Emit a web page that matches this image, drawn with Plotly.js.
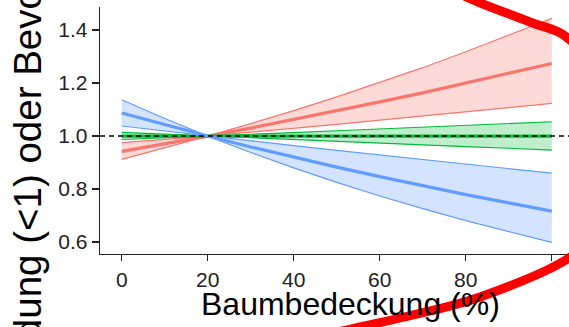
<!DOCTYPE html>
<html>
<head>
<meta charset="utf-8">
<script src="https://cdn.plot.ly/plotly-3.0.1.min.js"></script>
<style>html,body{margin:0;padding:0;overflow:hidden;background:#fff}#chart{width:569px;height:327px}</style>
</head>
<body>
<div id="chart"></div>
<script>
// Baumbedeckung (%)
const cover = [0, 10, 20, 30, 40, 50, 60, 70, 80, 90, 100];
// red group
const redMean  = [0.942, 0.970, 1.000, 1.030, 1.062, 1.094, 1.129, 1.163, 1.199, 1.236, 1.274];
const redBandA = [0.912, 0.955, 1.000, 1.047, 1.096, 1.148, 1.202, 1.258, 1.318, 1.380, 1.444];
const redBandB = [0.975, 0.987, 1.000, 1.015, 1.029, 1.044, 1.060, 1.075, 1.091, 1.107, 1.123];
// green group
const greenMean  = [1.000, 1.000, 1.000, 1.000, 1.000, 1.000, 1.000, 1.000, 1.000, 1.000, 1.000];
const greenBandA = [0.987, 0.993, 1.000, 1.007, 1.013, 1.020, 1.027, 1.034, 1.040, 1.047, 1.054];
const greenBandB = [1.014, 1.007, 1.000, 0.993, 0.986, 0.980, 0.973, 0.967, 0.960, 0.954, 0.947];
// blue group
const blueMean  = [1.087, 1.042, 1.000, 0.959, 0.920, 0.883, 0.847, 0.812, 0.779, 0.748, 0.717];
const blueBandA = [1.137, 1.066, 1.000, 0.938, 0.880, 0.825, 0.774, 0.726, 0.681, 0.639, 0.599];
const blueBandB = [1.038, 1.019, 1.000, 0.982, 0.964, 0.946, 0.929, 0.911, 0.894, 0.877, 0.860];

const xTicks = [0, 20, 40, 60, 80, 100];
const yTicks = [0.6, 0.8, 1.0, 1.2, 1.4];
const xTitle = 'Baumbedeckung (%)';
const yTitle = 'Vermeidung (<1) oder Bevorzugung (>1)';
const refLevel = 1.0;

const groups = [
  {name: 'rot',  mean: redMean,   a: redBandA,   b: redBandB,   color: '#F8766D', fill: 'rgba(248,118,109,0.27)'},
  {name: 'grün', mean: greenMean, a: greenBandA, b: greenBandB, color: '#00BA38', fill: 'rgba(0,186,56,0.25)'},
  {name: 'blau', mean: blueMean,  a: blueBandA,  b: blueBandB,  color: '#619CFF', fill: 'rgba(97,156,255,0.27)'}
];

const traces = [];
groups.forEach(g => {
  traces.push({x: cover, y: g.b, type: 'scatter', mode: 'lines', line: {color: g.color, width: 1.2}, hoverinfo: 'skip', showlegend: false});
  traces.push({x: cover, y: g.a, type: 'scatter', mode: 'lines', fill: 'tonexty', fillcolor: g.fill, line: {color: g.color, width: 1.2}, hoverinfo: 'skip', showlegend: false});
  traces.push({x: cover, y: g.mean, type: 'scatter', mode: 'lines', name: g.name, line: {color: g.color, width: 3.2}, showlegend: false});
});

// red hand-drawn ring highlight (decoration); guide points in screen pixels
const M = {l: 100, r: 0, t: 7, b: 73};
const W = 569, H = 327;
const pw = W - M.l - M.r, ph = H - M.t - M.b;
const ringPx = [[400,-40],[440,-16],[478,2],[530,22],[569,39],[603,85],[618,150],[603,215],[569,258],[480,297],[400,318],[355,328],[300,342],[260,360]];
function toPaper(p){ return [(p[0]-M.l)/pw, (H-M.b-p[1])/ph]; }
function ringPath(pts){
  const P = pts.map(toPaper);
  let d = 'M ' + P[0][0].toFixed(4) + ',' + P[0][1].toFixed(4);
  for (let i = 0; i < P.length - 1; i++) {
    const p0 = P[Math.max(i-1,0)], p1 = P[i], p2 = P[i+1], p3 = P[Math.min(i+2,P.length-1)];
    const c1 = [p1[0] + (p2[0]-p0[0])/6, p1[1] + (p2[1]-p0[1])/6];
    const c2 = [p2[0] - (p3[0]-p1[0])/6, p2[1] - (p3[1]-p1[1])/6];
    d += ' C ' + c1.map(v=>v.toFixed(4)).join(',') + ' ' + c2.map(v=>v.toFixed(4)).join(',') + ' ' + p2.map(v=>v.toFixed(4)).join(',');
  }
  return d;
}

const font = 'Liberation Sans, Arial, sans-serif';
const layout = {
  width: W, height: H,
  margin: {l: M.l, r: M.r, t: M.t, b: M.b, pad: 0},
  paper_bgcolor: '#fff', plot_bgcolor: '#fff',
  showlegend: false,
  font: {family: font, color: '#222'},
  xaxis: {
    range: [-5.05, 104], tickvals: xTicks, ticktext: xTicks.map(String),
    showgrid: false, zeroline: false, showline: true, linecolor: '#222', linewidth: 1.3,
    ticks: 'outside', ticklen: 6, tickwidth: 1.3, tickcolor: '#222',
    tickfont: {size: 21, family: font, color: '#222'}
  },
  yaxis: {
    range: [0.555, 1.487], tickvals: yTicks, tickformat: '.1f',
    showgrid: false, zeroline: false, showline: true, linecolor: '#222', linewidth: 1.3,
    ticks: 'outside', ticklen: 7, tickwidth: 1.3, tickcolor: '#222',
    tickfont: {size: 21, family: font, color: '#222'}
  },
  shapes: [
    {type: 'line', xref: 'paper', yref: 'y', x0: 0, x1: 1, y0: refLevel, y1: refLevel, line: {color: '#000', width: 1.5, dash: '5px,4px'}, layer: 'above'},
    {type: 'path', xref: 'paper', yref: 'paper', path: ringPath(ringPx), line: {color: '#FF0000', width: 9}, layer: 'above'}
  ],
  annotations: [
    {text: xTitle, xref: 'paper', yref: 'paper', x: 0.534, y: -0.2024, xanchor: 'center', yanchor: 'middle', showarrow: false, font: {size: 32, family: font, color: '#000'}},
    {text: yTitle, xref: 'paper', yref: 'paper', x: -0.1535, y: 0.5628, xanchor: 'center', yanchor: 'middle', textangle: -90, showarrow: false, font: {size: 38.5, family: font, color: '#000'}}
  ]
};

Plotly.newPlot('chart', traces, layout, {displayModeBar: false, staticPlot: true});
</script>
</body>
</html>
